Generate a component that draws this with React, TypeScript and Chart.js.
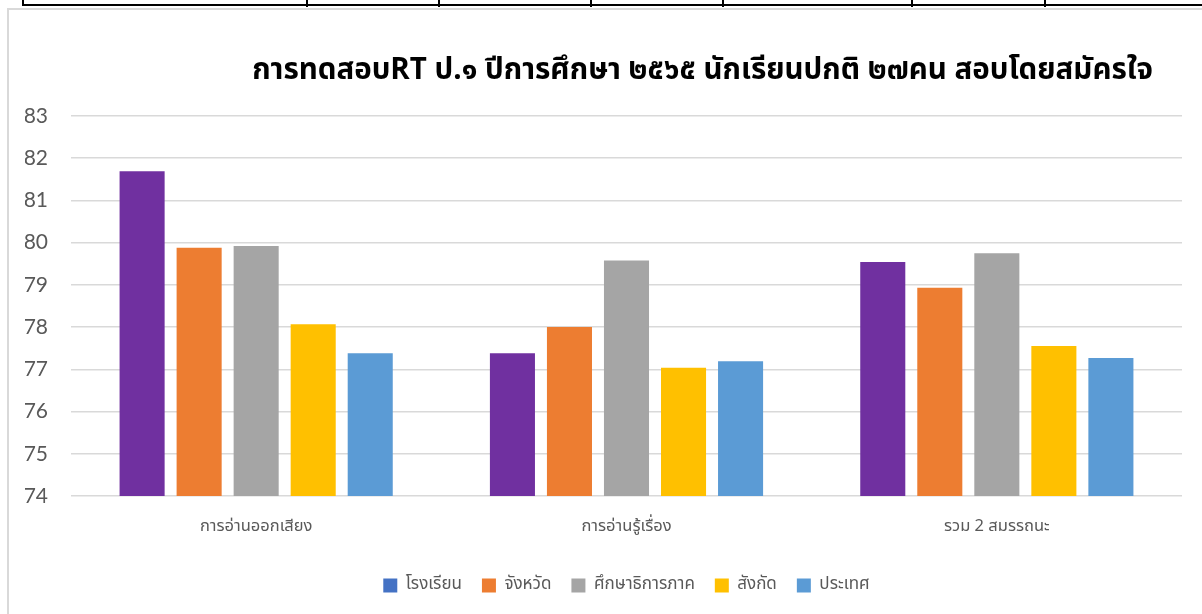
import React, { useEffect, useRef } from "react";
import { Chart, registerables } from "chart.js";

Chart.register(...registerables);

const titleText = "การทดสอบRT ป.๑ ปีการศึกษา ๒๕๖๕ นักเรียนปกติ ๒๗คน สอบโดยสมัครใจ";
const categories = ["การอ่านออกเสียง", "การอ่านรู้เรื่อง", "รวม 2 สมรรถนะ"];
const seriesNames = ["โรงเรียน", "จังหวัด", "ศึกษาธิการภาค", "สังกัด", "ประเทศ"];
const schoolValues = [81.69, 77.38, 79.54];
const provinceValues = [79.88, 78.0, 78.93];
const regionValues = [79.92, 79.58, 79.75];
const affiliationValues = [78.07, 77.04, 77.55];
const nationValues = [77.38, 77.19, 77.27];
const barColors = ["#7030A0", "#ED7D31", "#A5A5A5", "#FFC000", "#5B9BD5"];
const legendColors = ["#4472C4", "#ED7D31", "#A5A5A5", "#FFC000", "#5B9BD5"];
const yMin = 74;
const yMax = 83;

const thaiFont = '"Noto Sans Thai", "Noto Sans Thai UI", Tahoma, "Liberation Sans", sans-serif';

const titlePlugin = {
  id: "rightTitle",
  afterDraw(chart: any) {
    const { ctx, chartArea } = chart;
    ctx.save();
    ctx.font = `bold 29.5px ${thaiFont}`;
    ctx.fillStyle = "#000000";
    ctx.textAlign = "right";
    ctx.textBaseline = "middle";
    ctx.fillText(titleText, chartArea.right - 29, 73);
    ctx.restore();
  },
};

export default function App() {
  const canvasRef = useRef<HTMLCanvasElement | null>(null);

  useEffect(() => {
    if (!canvasRef.current) return;
    const allValues = [schoolValues, provinceValues, regionValues, affiliationValues, nationValues];
    const chart = new Chart(canvasRef.current, {
      type: "bar",
      data: {
        labels: categories,
        datasets: seriesNames.map((name, i) => ({
          label: name,
          data: allValues[i],
          backgroundColor: barColors[i],
          borderWidth: 0,
          categoryPercentage: 0.77,
          barPercentage: 0.79,
        })),
      },
      options: {
        animation: false,
        responsive: false,
        maintainAspectRatio: false,
        layout: { padding: { left: 25, right: 20, top: 116, bottom: 10 } },
        plugins: {
          title: { display: false },
          tooltip: { enabled: false },
          legend: {
            position: "bottom",
            fullSize: false,
            labels: {
              boxWidth: 14,
              boxHeight: 14,
              padding: 20,
              color: "#595959",
              font: { family: thaiFont, size: 17 },
              generateLabels(chart: any) {
                const items = Chart.defaults.plugins.legend.labels.generateLabels(chart);
                return items.map((it: any, i: number) => ({
                  ...it,
                  fillStyle: legendColors[i],
                  strokeStyle: legendColors[i],
                  lineWidth: 0,
                }));
              },
            },
          },
        },
        scales: {
          x: {
            afterFit(scale: any) {
              scale.height = 61;
            },
            grid: { display: false, drawTicks: false },
            border: { display: false },
            ticks: {
              color: "#595959",
              padding: 22,
              font: { family: thaiFont, size: 16.5 },
            },
          },
          y: {
            min: yMin,
            max: yMax,
            afterFit(scale: any) {
              scale.width = 46;
            },
            grid: { color: "#D9D9D9", lineWidth: 1.5, drawTicks: false },
            border: { display: false },
            ticks: {
              stepSize: 1,
              padding: 23,
              color: "#595959",
              font: { family: "Lato, 'Open Sans', sans-serif", size: 21 },
            },
          },
        },
      },
      plugins: [titlePlugin],
    });
    return () => chart.destroy();
  }, []);

  const tableCols = [306, 438, 590, 722, 911, 1044];

  return (
    <div
      style={{
        position: "absolute",
        left: 0,
        top: 0,
        width: 1202,
        height: 614,
        overflow: "hidden",
        background: "#ffffff",
      }}
    >
      <div
        style={{
          position: "absolute",
          left: 22,
          top: -2,
          width: 1200,
          height: 6,
          borderLeft: "2px solid #000",
          borderBottom: "2px solid #000",
        }}
      />
      {tableCols.map((x) => (
        <div
          key={x}
          style={{ position: "absolute", left: x, top: 0, width: 2, height: 7, background: "#000" }}
        />
      ))}
      <div
        style={{
          position: "absolute",
          left: 7,
          top: 8,
          width: 1300,
          height: 700,
          borderLeft: "2px solid #D9D9D9",
          borderTop: "2px solid #D9D9D9",
        }}
      />
      <canvas
        ref={canvasRef}
        width={1202}
        height={614}
        style={{ position: "absolute", left: 0, top: 0, width: 1202, height: 614 }}
      />
    </div>
  );
}
